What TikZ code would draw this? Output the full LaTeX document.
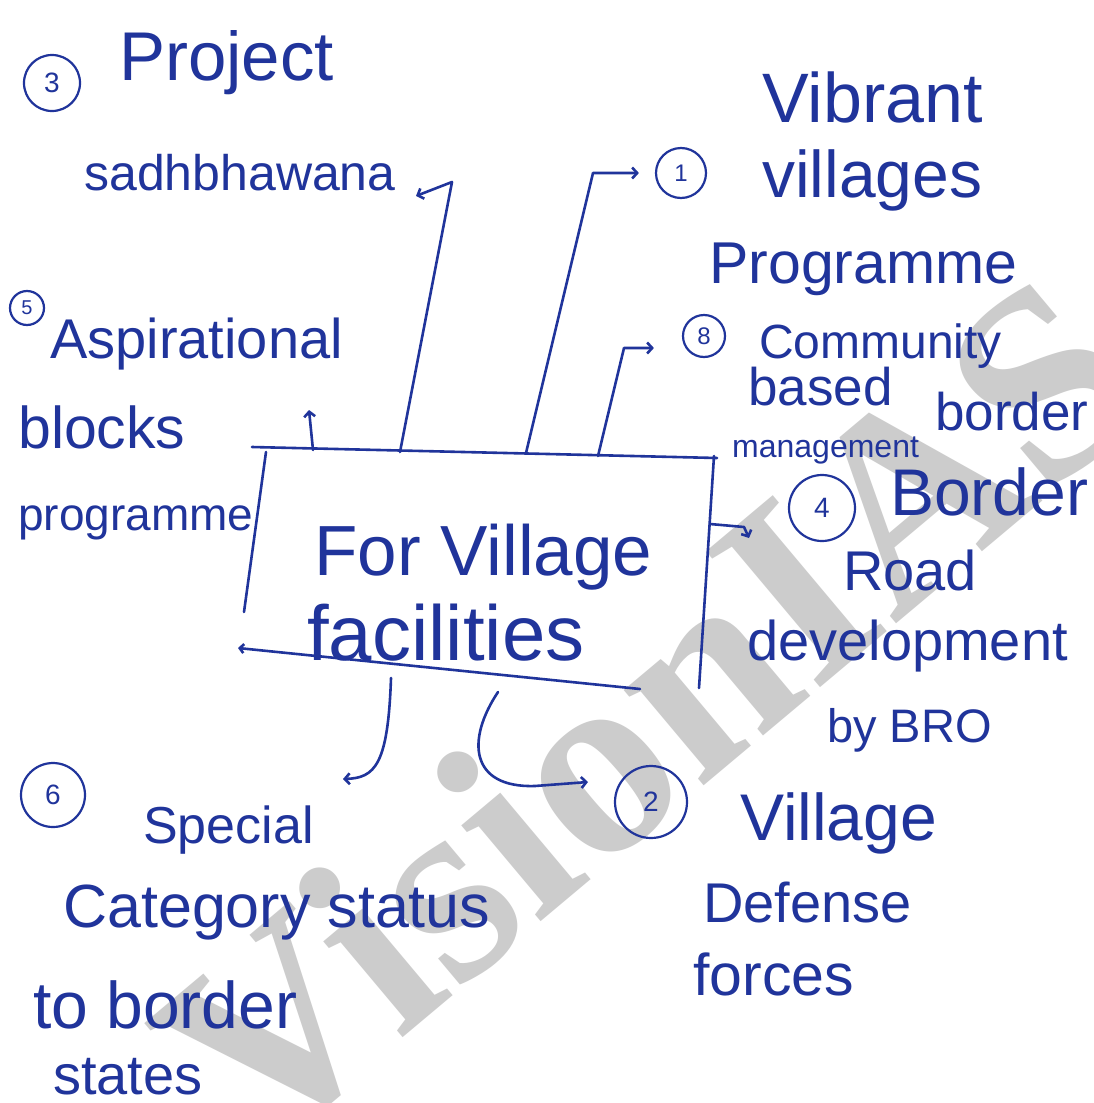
\documentclass[tikz,border=0pt]{standalone}
\usepackage{fontspec}
\setmainfont{Liberation Sans}
\newfontfamily\wmfont{Liberation Serif}
\usetikzlibrary{arrows.meta,calc}
\definecolor{ink}{RGB}{32,52,155}
\definecolor{wmgray}{RGB}{204,204,204}
\begin{document}
\begin{tikzpicture}[x=1pt,y=-1pt,
  txt/.style={inner sep=0pt,anchor=base west,text=ink,font=\fontsize{#1}{#1}\selectfont},
  num/.style={circle,draw=ink,line width=2.2pt,inner sep=0pt,minimum size=#1,text=ink,font=\fontsize{24}{24}\selectfont},
  inkline/.style={draw=ink,line width=2.6pt,line cap=round,line join=round},
  link/.style={inkline,-{Straight Barb[length=5pt,width=11pt]}},
]
\useasboundingbox (0,0) rectangle (1093,1103);
\fill[white] (0,0) rectangle (1093,1103);
% watermark
\node[rotate=40,anchor=base,text=wmgray,inner sep=0pt,
      font=\wmfont\bfseries\fontsize{271}{271}\selectfont] (wm) at (708,782) {VisionIAS};

% central box (hand-drawn strokes)
\coordinate (tl) at (252,447);
\coordinate (tr) at (717,458);
\coordinate (rt) at (714,456);
\coordinate (rb) at (699,688);
\coordinate (lt) at (266,452);
\coordinate (lb) at (244,612);
\coordinate (bl) at (238,648);
\coordinate (br) at (640,689);
\draw[inkline] (tl) -- (tr);
\draw[inkline] (rt) -- (rb);
\draw[inkline] (lt) -- (lb);
\draw[inkline,-{Straight Barb[length=4pt,width=9pt]}] (br) -- (bl);
\node[txt=71] (hub1) at (314,575) {For Village};
\node[txt=78] (hub2) at (307,660) {facilities};

% (3) Project sadhbhawana
\node[num=56,font=\fontsize{28}{28}\selectfont] (n3) at (52,83) {3};
\node[txt=69] (t3a) at (119,80) {Project};
\node[txt=50] (t3b) at (84,190) {sadhbhawana};

% (1) Vibrant villages Programme
\node[num=50] (n1) at (681,173) {1};
\node[txt=70] (t1a) at (762,122) {Vibrant};
\node[txt=66] (t1b) at (762,197) {villages};
\node[txt=59] (t1c) at (709,283) {Programme};

% (5) Aspirational blocks programme
\node[num=34,font=\fontsize{20}{20}\selectfont] (n5) at (27,308) {5};
\node[txt=56] (t5a) at (50,358) {Aspirational};
\node[txt=59] (t5b) at (18,448) {blocks};
\node[txt=46] (t5c) at (18,530) {programme};

% (8) Community based border management
\node[num=42] (n8) at (704,336) {8};
\node[txt=48] (t8a) at (759,358) {Community};
\node[txt=53] (t8b) at (748,405) {based};
\node[txt=53] (t8c) at (935,430) {border};
\node[txt=32] (t8d) at (732,457) {management};

% (4) Border Road development by BRO
\node[num=66,font=\fontsize{28}{28}\selectfont] (n4) at (822,508) {4};
\node[txt=66] (t4a) at (890,515) {Border};
\node[txt=56] (t4b) at (843,590) {Road};
\node[txt=56] (t4c) at (747,660) {development};
\node[txt=47] (t4d) at (827,742) {by BRO};

% (6) Special Category status to border states
\node[num=64,font=\fontsize{28}{28}\selectfont] (n6) at (53,795) {6};
\node[txt=52] (t6a) at (143,843) {Special};
\node[txt=61] (t6b) at (63,927) {Category status};
\node[txt=66] (t6c) at (33,1028) {to border};
\node[txt=56] (t6d) at (53,1094) {states};

% (2) Village Defense forces
\node[num=72,font=\fontsize{28}{28}\selectfont] (n2) at (651,802) {2};
\node[txt=66] (t2a) at (740,840) {Village};
\node[txt=56] (t2b) at (703,922) {Defense};
\node[txt=59] (t2c) at (693,995) {forces};

% connectors
\coordinate (b3) at (400,452);
\coordinate (k3) at (452,182);
\coordinate (e3) at (416,196);
\draw[link] (b3) -- (k3) -- (e3);

\coordinate (b1) at (526,453);
\coordinate (k1) at (593,173);
\draw[link,shorten >=16pt] (b1) -- (k1) -- (n1.west);

\coordinate (b8) at (598,456);
\coordinate (k8) at (624,348);
\draw[link,shorten >=28pt] (b8) -- (k8) -- (k8 -| n8.west);

\coordinate (b5) at (313,450);
\coordinate (e5) at (309,410);
\draw[link] (b5) -- (e5);

\coordinate (b4) at (710,524);
\coordinate (k4) at (744,527);
\coordinate (e4) at (749,538);
\draw[link] (b4) -- (k4) -- (e4);

\coordinate (b6) at (391,678);
\coordinate (e6) at (343,779);
\draw[link] (b6) .. controls (388,765) and (375,778) .. (e6);

\coordinate (b2) at (498,692);
\coordinate (k2) at (535,786);
\coordinate (e2) at (588,782);
\draw[link] (b2) .. controls (466,740) and (470,788) .. (k2) -- (e2);
\end{tikzpicture}
\end{document}
